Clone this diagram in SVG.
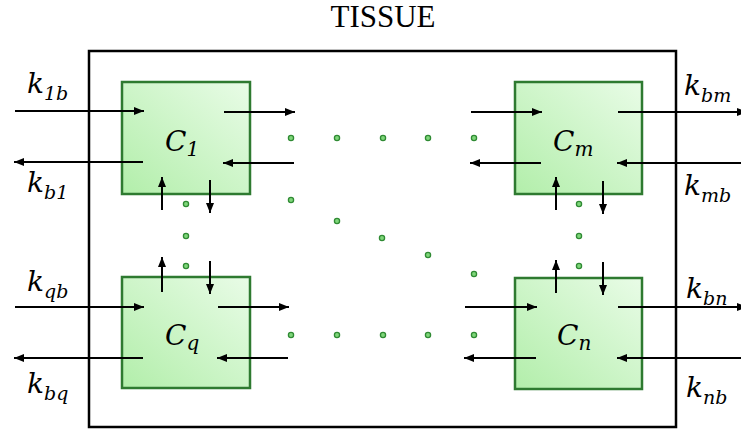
<svg xmlns="http://www.w3.org/2000/svg" width="741" height="429" viewBox="0 0 741 429">
<defs>
<linearGradient id="g" x1="0" y1="1" x2="1" y2="0">
<stop offset="0" stop-color="#b2eeaa"/>
<stop offset="1" stop-color="#e9fce7"/>
</linearGradient>
<marker id="ah" viewBox="0 0 10 8" refX="10" refY="4" markerWidth="10" markerHeight="8" markerUnits="userSpaceOnUse" orient="auto">
<path d="M0,0 L10,4 L0,8 Z" fill="#000"/>
</marker>
<style>
.box{fill:url(#g);stroke:#2e7a30;stroke-width:2.5}
.ar{stroke:#000;stroke-width:2;fill:none;marker-end:url(#ah)}
.dot{fill:#7fd67a;stroke:#2f8a33;stroke-width:1.3}
.lbl{font-family:"DejaVu Serif","Liberation Serif",serif;font-style:italic;font-size:28px;fill:#000}
.sub{font-size:19px}
.cl{font-family:"DejaVu Serif","Liberation Serif",serif;font-style:italic;font-size:28px;fill:#000}
.csub{font-size:20px}
</style>
</defs>
<text x="383" y="27" text-anchor="middle" font-family="Liberation Serif, serif" font-size="31" fill="#000">TISSUE</text>
<rect id="tissue" x="89" y="51" width="587" height="376" fill="none" stroke="#000" stroke-width="2.5"/>

<g id="C1"><rect class="box" x="122" y="82" width="128" height="112"/><text class="cl" x="165" y="151">C<tspan class="csub" dy="5">1</tspan></text></g>
<g id="Cm"><rect class="box" x="515" y="82" width="127" height="112"/><text class="cl" x="553" y="151">C<tspan class="csub" dy="5">m</tspan></text></g>
<g id="Cq"><rect class="box" x="122" y="277" width="128" height="111"/><text class="cl" x="165" y="345">C<tspan class="csub" dy="5">q</tspan></text></g>
<g id="Cn"><rect class="box" x="515" y="278" width="127" height="111"/><text class="cl" x="557" y="345">C<tspan class="csub" dy="5">n</tspan></text></g>

<g id="labels">
<text class="lbl" x="27" y="93">k<tspan class="sub" dy="7">1b</tspan></text>
<text class="lbl" x="27" y="192">k<tspan class="sub" dy="7">b1</tspan></text>
<text class="lbl" x="27" y="291">k<tspan class="sub" dy="7">qb</tspan></text>
<text class="lbl" x="27" y="393">k<tspan class="sub" dy="7">bq</tspan></text>
<text class="lbl" x="684" y="95">k<tspan class="sub" dy="7">bm</tspan></text>
<text class="lbl" x="684" y="195">k<tspan class="sub" dy="7">mb</tspan></text>
<text class="lbl" x="686" y="298">k<tspan class="sub" dy="7">bn</tspan></text>
<text class="lbl" x="686" y="397">k<tspan class="sub" dy="7">nb</tspan></text>
</g>

<g id="connectors">
<line class="ar" x1="15" y1="111" x2="144" y2="111"/>
<line class="ar" x1="224" y1="112" x2="295" y2="112"/>
<line class="ar" x1="143" y1="162" x2="14" y2="162"/>
<line class="ar" x1="294" y1="163" x2="223" y2="163"/>
<line class="ar" x1="162" y1="210" x2="162" y2="177"/>
<line class="ar" x1="210" y1="180" x2="210" y2="213"/>

<line class="ar" x1="471" y1="112" x2="542" y2="112"/>
<line class="ar" x1="618" y1="112" x2="747" y2="112"/>
<line class="ar" x1="541" y1="163" x2="470" y2="163"/>
<line class="ar" x1="741" y1="163" x2="617" y2="163"/>
<line class="ar" x1="556" y1="210" x2="556" y2="177"/>
<line class="ar" x1="603" y1="181" x2="603" y2="214"/>

<line class="ar" x1="15" y1="307" x2="144" y2="307"/>
<line class="ar" x1="218" y1="307" x2="289" y2="307"/>
<line class="ar" x1="143" y1="358" x2="14" y2="358"/>
<line class="ar" x1="288" y1="358" x2="217" y2="358"/>
<line class="ar" x1="162" y1="292" x2="162" y2="257"/>
<line class="ar" x1="210" y1="261" x2="210" y2="294"/>

<line class="ar" x1="465" y1="307" x2="537" y2="307"/>
<line class="ar" x1="618" y1="307" x2="747" y2="307"/>
<line class="ar" x1="536" y1="358" x2="464" y2="358"/>
<line class="ar" x1="741" y1="358" x2="617" y2="358"/>
<line class="ar" x1="556" y1="293" x2="556" y2="260"/>
<line class="ar" x1="603" y1="262" x2="603" y2="295"/>
</g>

<g id="dots">
<circle class="dot" cx="291" cy="138" r="2.6"/>
<circle class="dot" cx="337" cy="138" r="2.6"/>
<circle class="dot" cx="383" cy="138" r="2.6"/>
<circle class="dot" cx="428" cy="138" r="2.6"/>
<circle class="dot" cx="474" cy="138" r="2.6"/>
<circle class="dot" cx="291" cy="200" r="2.6"/>
<circle class="dot" cx="337" cy="221" r="2.6"/>
<circle class="dot" cx="382" cy="238" r="2.6"/>
<circle class="dot" cx="428" cy="255" r="2.6"/>
<circle class="dot" cx="474" cy="274" r="2.6"/>
<circle class="dot" cx="291" cy="335" r="2.6"/>
<circle class="dot" cx="337" cy="335" r="2.6"/>
<circle class="dot" cx="383" cy="335" r="2.6"/>
<circle class="dot" cx="428" cy="335" r="2.6"/>
<circle class="dot" cx="474" cy="335" r="2.6"/>
<circle class="dot" cx="186" cy="204" r="2.6"/>
<circle class="dot" cx="186" cy="236" r="2.6"/>
<circle class="dot" cx="186" cy="266" r="2.6"/>
<circle class="dot" cx="579" cy="204" r="2.6"/>
<circle class="dot" cx="579" cy="236" r="2.6"/>
<circle class="dot" cx="579" cy="266" r="2.6"/>
</g>
</svg>
